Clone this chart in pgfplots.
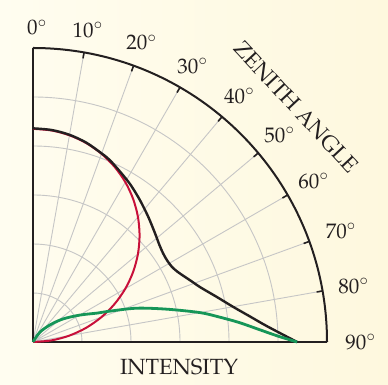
\documentclass[border=0pt]{standalone}
\usepackage[T1]{fontenc}
\usepackage{mathpazo}
\usepackage{pgfplots}
\pgfplotsset{compat=1.18}
\usepgfplotslibrary{polar}
\definecolor{bgA}{RGB}{255,253,240}
\definecolor{bgB}{RGB}{254,248,222}
\definecolor{ink}{RGB}{35,31,32}
\definecolor{cred}{RGB}{200,16,58}
\definecolor{cgreen}{RGB}{22,150,88}
\begin{document}
\begin{tikzpicture}
\path[use as bounding box] (-33pt,-43pt) rectangle (355pt,342pt);
\shade[left color=bgA,right color=bgB] (-33pt,-43pt) rectangle (355pt,342pt);
\begin{polaraxis}[
  at={(0pt,0pt)}, anchor=origin,
  scale only axis, width=588pt, height=588pt,
  xmin=0, xmax=90, ymin=0, ymax=6,
  xtick={0,10,...,90},
  xticklabels={\hspace{12pt}$90^\circ$,\hspace{7pt}$80^\circ$,\hspace{7pt}$70^\circ$,\hspace{2pt}$60^\circ$,$50^\circ$,$40^\circ$,$30^\circ$,$20^\circ$\rule[-3pt]{0pt}{3pt},$10^\circ$\rule[-5pt]{0pt}{5pt},\hspace{8pt}$0^\circ$\rule[-7pt]{0pt}{7pt}},
  ytick={1,2,3,4,5}, yticklabels={},
  grid=major,
  major grid style={draw=gray!45, line width=0.9pt},
  axis line style={draw=ink, line width=2pt},
  tick align=outside, major tick length=6pt,
  xtick style={draw=ink, line width=1.6pt},
  ytick style={draw=none},
  ticklabel style={font=\fontsize{21}{24}\selectfont, text=ink},
  xticklabel style={outer sep=9pt},
  clip=false,
]
% red: Lambertian lobe (cartesian: x horizontal, y vertical)
\addplot[data cs=cart, smooth, cred, line width=2pt] coordinates {
(0,4.35) (0.378,4.317) (0.744,4.219) (1.0875,4.059) (1.398,3.841) (1.666,3.573)
(1.884,3.2625) (2.044,2.919) (2.142,2.553) (2.175,2.175) (2.142,1.797) (2.044,1.431)
(1.884,1.0875) (1.666,0.777) (1.398,0.509) (1.0875,0.291) (0.744,0.131) (0.378,0.033) (0,0)
};
% black
\addplot[data cs=cart, smooth, ink, line width=2.4pt] coordinates {
(0,4.36) (0.378,4.327) (0.744,4.229) (1.0875,4.069) (1.398,3.851) (1.57,3.71)
(1.80,3.45) (1.99,3.21) (2.18,2.90) (2.35,2.56) (2.49,2.22) (2.58,1.98) (2.66,1.80)
(2.74,1.66) (2.83,1.54) (2.94,1.44) (3.07,1.35) (3.22,1.25) (3.41,1.12) (3.75,0.92)
(4.08,0.72) (4.43,0.52) (4.78,0.32) (5.39,0)
};
% green
\addplot[data cs=cart, smooth, cgreen, line width=2.8pt] coordinates {
(0,0) (0.14,0.20) (0.35,0.35) (0.61,0.47) (0.96,0.55) (1.31,0.59) (1.57,0.63)
(2.12,0.69) (2.73,0.67) (3.41,0.60) (3.8,0.51) (4.2,0.40) (4.6,0.26) (5.0,0.12) (5.39,0)
};
\node[rotate=-47, font=\fontsize{22}{24}\selectfont, text=ink] at (axis cs:41.8,7.2) {ZENITH ANGLE};
\node[yshift=-25pt, font=\fontsize{22}{24}\selectfont, text=ink] at (axis cs:0,2.98) {INTENSITY};
\end{polaraxis}
\end{tikzpicture}
\end{document}
